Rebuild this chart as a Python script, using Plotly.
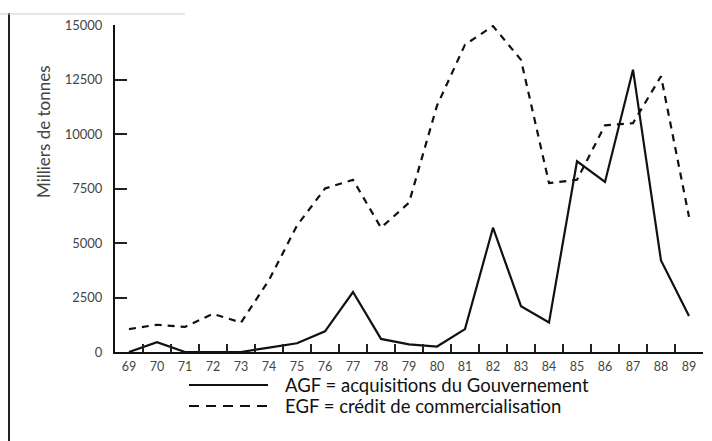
import plotly.graph_objects as go

years = ["69", "70", "71", "72", "73", "74", "75", "76", "77", "78", "79",
         "80", "81", "82", "83", "84", "85", "86", "87", "88", "89"]
agf = [0, 450, 0, 0, 0, 200, 400, 950, 2750, 600, 350, 250, 1050, 5700, 2100,
       1350, 8750, 7800, 12950, 4200, 1650]
egf = [1050, 1250, 1150, 1750, 1350, 3300, 5800, 7500, 7900, 5700, 6850, 11300,
       14100, 14950, 13400, 7750, 7900, 10400, 10500, 12650, 6200]
y_ticks = [0, 2500, 5000, 7500, 10000, 12500, 15000]

FONT = "Lato"

fig = go.Figure()
fig.add_trace(go.Scatter(x=years, y=agf, mode="lines", name="AGF",
                         line=dict(color="#111", width=2.2), showlegend=False))
fig.add_trace(go.Scatter(x=years, y=egf, mode="lines", name="EGF",
                         line=dict(color="#111", width=2.2, dash="7px,6px"),
                         showlegend=False))

# Hand-drawn style legend (sample lines + text)
def px_x(X):
    return (X - 115) / 588.0

def px_y(Y):
    return (352 - Y) / 327.0

LEG1, LEG2 = 385, 406
shapes = [
    dict(type="line", xref="paper", yref="paper", x0=px_x(189), x1=px_x(268),
         y0=px_y(LEG1), y1=px_y(LEG1), line=dict(color="#111", width=2)),
    dict(type="line", xref="paper", yref="paper", x0=px_x(189), x1=px_x(268),
         y0=px_y(LEG2), y1=px_y(LEG2), line=dict(color="#111", width=2, dash="10px,7px")),
    # scan border lines
    dict(type="line", xref="paper", yref="paper", x0=px_x(9), x1=px_x(9),
         y0=px_y(13), y1=px_y(441), line=dict(color="#222", width=2)),
    dict(type="line", xref="paper", yref="paper", x0=px_x(0), x1=px_x(185),
         y0=px_y(14), y1=px_y(14), line=dict(color="#ccc", width=1)),
]
annotations = [
    dict(text="AGF = acquisitions du Gouvernement", xref="paper", yref="paper",
         x=px_x(283), y=px_y(LEG1), xanchor="left", yanchor="middle", showarrow=False,
         font=dict(family=FONT, size=18.5, color="#111")),
    dict(text="EGF = crédit de commercialisation", xref="paper", yref="paper",
         x=px_x(283), y=px_y(LEG2), xanchor="left", yanchor="middle", showarrow=False,
         font=dict(family=FONT, size=18.5, color="#111")),
    dict(text="Milliers de tonnes", xref="paper", yref="paper",
         x=px_x(43), y=px_y(132), xanchor="center", yanchor="middle", textangle=-90,
         showarrow=False, font=dict(family=FONT, size=17, color="#444")),
]

fig.update_layout(
    width=712, height=441,
    margin=dict(l=115, r=9, t=25, b=89),
    paper_bgcolor="white", plot_bgcolor="white",
    shapes=shapes, annotations=annotations,
    font=dict(family=FONT, color="#444"),
)
fig.update_xaxes(
    type="category", categoryorder="array", categoryarray=years,
    range=[-0.5, 20.5], showgrid=False, zeroline=False,
    showline=True, linecolor="#111", linewidth=2,
    ticks="inside", tickson="boundaries", ticklen=8, tickwidth=1.5, tickcolor="#222",
    ticklabelstandoff=2,
    tickfont=dict(family=FONT, size=12.5, color="#444"),
)
fig.update_yaxes(
    range=[0, 15000], showgrid=False, zeroline=False,
    showline=True, linecolor="#111", linewidth=2,
    tickvals=y_ticks, ticktext=[str(v) for v in y_ticks],
    ticks="inside", ticklen=12, tickwidth=1.5, tickcolor="#222",
    ticklabelstandoff=8,
    tickfont=dict(family=FONT, size=13, color="#444"),
)

fig.write_html("out.html", config={"displayModeBar": False},
               post_script="document.body.style.margin='0';")
